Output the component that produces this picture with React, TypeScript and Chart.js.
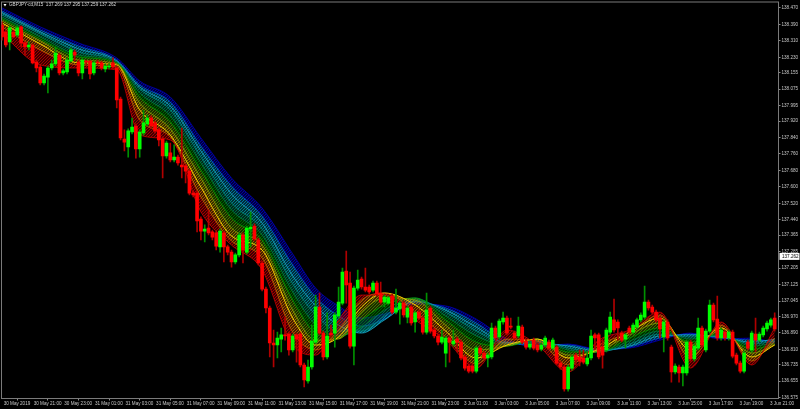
import React, { useEffect, useRef } from "react";
import Chart from "chart.js/auto";

const title = "GBPJPY-cd,M15  137.269 137.295 137.259 137.262";
const lastPrice = 137.262;

const timeLabels = ["30 May 2019","30 May 21:00","30 May 23:00","31 May 01:00","31 May 03:00","31 May 05:00","31 May 07:00","31 May 09:00","31 May 11:00","31 May 13:00","31 May 15:00","31 May 17:00","31 May 19:00","31 May 21:00","31 May 23:00","3 Jun 01:00","3 Jun 03:00","3 Jun 05:00","3 Jun 07:00","3 Jun 09:00","3 Jun 11:00","3 Jun 13:00","3 Jun 15:00","3 Jun 17:00","3 Jun 19:00","3 Jun 21:00"];
const priceTicks = [138.47,138.39,138.31,138.23,138.155,138.075,137.995,137.92,137.84,137.76,137.68,137.6,137.52,137.44,137.365,137.285,137.205,137.125,137.045,136.97,136.89,136.81,136.735,136.655,136.575];

const opens = [
138.387,138.353,138.305,138.353,138.339,138.378,138.300,138.280,138.290,138.207,
138.183,138.105,138.134,138.178,138.198,138.241,138.154,138.159,138.212,138.256,
138.207,138.154,138.212,138.212,138.154,138.207,138.203,138.173,138.183,138.203,
138.178,138.027,137.833,137.794,137.867,137.896,137.784,137.862,137.906,137.935,
137.911,137.877,137.833,137.750,137.765,137.731,137.745,137.706,137.702,137.677,
137.570,137.570,137.444,137.385,137.400,137.381,137.376,137.308,137.376,137.308,
137.283,137.235,137.269,137.366,137.283,137.395,137.410,137.342,137.230,137.103,
137.011,136.841,136.831,136.860,136.880,136.884,136.807,136.880,136.884,136.734,
136.656,136.724,136.845,137.016,136.889,136.773,136.889,136.889,136.972,137.035,
137.191,137.132,136.826,137.108,137.152,137.113,137.113,137.098,137.132,137.084,
137.040,137.035,137.069,136.991,137.006,137.035,136.967,137.016,136.943,136.991,
136.962,136.894,137.011,136.904,136.875,136.845,136.792,136.865,136.836,136.860,
136.845,136.773,136.729,136.729,136.704,136.816,136.792,136.768,136.773,136.914,
136.870,136.943,136.962,136.923,136.889,136.875,136.918,136.850,136.821,136.855,
136.831,136.811,136.831,136.845,136.816,136.821,136.743,136.724,136.617,136.719,
136.782,136.773,136.768,136.739,136.768,136.880,136.880,136.821,136.807,136.894,
136.953,136.943,136.889,136.860,136.914,136.894,136.918,136.953,136.967,137.040,
137.016,136.991,136.962,136.870,136.943,136.821,136.700,136.724,136.695,136.695,
136.845,136.763,136.816,136.914,136.807,136.899,137.025,136.957,136.865,136.894,
136.865,136.894,136.782,136.743,136.704,136.845,136.807,136.884,136.855,136.880,
136.909,136.928,136.962];
const highs = [
138.402,138.363,138.383,138.363,138.383,138.383,138.305,138.305,138.295,138.217,
138.193,138.149,138.188,138.217,138.280,138.251,138.173,138.227,138.276,138.266,
138.217,138.227,138.217,138.217,138.212,138.217,138.212,138.198,138.198,138.227,
138.188,138.037,137.877,137.882,137.935,137.906,137.877,137.974,137.950,137.945,
137.920,137.886,137.843,137.823,137.813,137.804,137.755,137.886,137.711,137.687,
137.580,137.580,137.454,137.415,137.488,137.390,137.385,137.395,137.385,137.317,
137.293,137.278,137.376,137.376,137.410,137.478,137.420,137.351,137.239,137.113,
137.021,136.904,136.894,136.914,136.967,136.894,136.884,136.889,136.894,136.743,
136.758,136.928,137.074,137.084,136.899,136.987,136.928,136.987,137.113,137.205,
137.288,137.186,137.118,137.196,137.162,137.205,137.123,137.142,137.142,137.137,
137.074,137.069,137.079,137.103,137.045,137.045,137.021,137.025,136.996,137.001,
136.972,137.084,137.021,136.914,136.884,136.904,136.875,136.875,136.904,136.870,
136.855,136.782,136.739,136.739,136.826,136.826,136.802,136.792,136.938,136.923,
136.957,136.991,136.972,136.962,136.899,136.967,136.928,136.860,136.845,136.865,
136.841,136.841,136.875,136.855,136.865,136.831,136.753,136.734,136.734,136.782,
136.792,136.807,136.807,136.797,136.904,136.889,136.889,136.855,136.914,136.991,
137.055,136.953,136.899,136.889,136.923,136.938,136.962,136.987,137.118,137.050,
137.025,137.001,136.972,136.953,136.953,136.831,136.739,136.734,136.734,136.855,
136.855,136.836,136.962,136.923,136.909,137.050,137.035,137.069,136.914,136.904,
136.904,136.904,136.792,136.753,136.802,136.855,136.899,136.962,136.894,136.923,
136.948,136.962,136.987];
const lows = [
138.314,138.280,138.266,138.324,138.329,138.280,138.241,138.266,138.198,138.159,
138.096,138.096,138.057,138.169,138.188,138.144,138.144,138.149,138.207,138.212,
138.139,138.125,138.193,138.125,138.144,138.193,138.169,138.159,138.173,138.173,
137.984,137.828,137.775,137.745,137.857,137.740,137.745,137.852,137.896,137.886,
137.862,137.799,137.643,137.740,137.721,137.721,137.706,137.643,137.619,137.561,
137.551,137.381,137.342,137.332,137.366,137.342,137.293,137.283,137.235,137.269,
137.210,137.225,137.259,137.230,137.274,137.308,137.337,137.220,137.094,136.987,
136.773,136.724,136.768,136.797,136.855,136.782,136.797,136.748,136.724,136.627,
136.646,136.714,136.836,136.880,136.758,136.763,136.870,136.821,136.962,137.026,
137.035,136.816,136.734,137.098,137.103,137.089,137.079,137.089,137.069,137.030,
137.016,137.026,136.982,136.982,136.933,136.967,136.938,136.928,136.894,136.953,
136.884,136.884,136.889,136.865,136.831,136.836,136.724,136.748,136.826,136.797,
136.758,136.709,136.695,136.695,136.695,136.782,136.758,136.724,136.763,136.855,
136.860,136.933,136.880,136.909,136.855,136.865,136.836,136.811,136.811,136.807,
136.797,136.802,136.821,136.807,136.807,136.734,136.714,136.607,136.607,136.709,
136.734,136.729,136.739,136.729,136.758,136.807,136.763,136.719,136.797,136.884,
136.894,136.855,136.846,136.816,136.884,136.884,136.909,136.943,136.957,137.001,
136.982,136.943,136.865,136.797,136.855,136.651,136.690,136.651,136.632,136.685,
136.753,136.753,136.807,136.821,136.797,136.889,136.943,136.855,136.855,136.855,
136.855,136.768,136.734,136.695,136.695,136.807,136.797,136.797,136.846,136.870,
136.899,136.918,136.899];
const closes = [
138.329,138.290,138.373,138.329,138.373,138.300,138.280,138.290,138.203,138.178,
138.105,138.139,138.178,138.198,138.251,138.154,138.164,138.217,138.266,138.241,
138.154,138.217,138.207,138.149,138.203,138.203,138.178,138.188,138.188,138.183,
138.023,137.838,137.818,137.872,137.891,137.784,137.867,137.911,137.935,137.896,
137.872,137.828,137.750,137.813,137.731,137.745,137.716,137.697,137.677,137.570,
137.561,137.434,137.385,137.395,137.376,137.356,137.312,137.385,137.308,137.283,
137.235,137.269,137.366,137.293,137.400,137.405,137.347,137.230,137.103,137.011,
136.841,136.831,136.865,136.880,136.875,136.807,136.875,136.860,136.734,136.661,
136.724,136.850,137.016,136.889,136.773,136.875,136.880,136.977,137.040,137.186,
137.123,136.826,137.108,137.147,137.113,137.098,137.089,137.132,137.079,137.040,
137.064,137.060,136.991,137.011,137.035,136.977,137.011,136.938,136.987,136.962,
136.894,137.001,136.899,136.875,136.845,136.870,136.865,136.845,136.850,136.845,
136.768,136.719,136.704,136.704,136.816,136.792,136.768,136.782,136.914,136.865,
136.948,136.962,136.889,136.918,136.865,136.923,136.845,136.821,136.836,136.816,
136.807,136.831,136.865,136.816,136.855,136.743,136.724,136.617,136.724,136.773,
136.758,136.753,136.748,136.768,136.875,136.865,136.773,136.782,136.904,136.967,
136.904,136.914,136.855,136.880,136.894,136.928,136.953,136.977,137.040,137.011,
136.991,136.953,136.909,136.943,136.865,136.700,136.729,136.695,136.724,136.845,
136.763,136.826,136.914,136.831,136.899,137.025,136.953,136.865,136.904,136.865,
136.894,136.777,136.743,136.704,136.792,136.816,136.889,136.855,136.884,136.914,
136.938,136.953,136.909];

const ribbonBars = [0,10,20,30,36,44,52,60,68,76,82,88,94,100,108,116,124,132,140,148,156,164,172,180,188,196,202];
const maRed = [138.344,138.193,138.178,138.169,137.852,137.828,137.478,137.317,137.196,136.831,136.782,136.953,137.074,137.074,136.953,136.855,136.719,136.904,136.831,136.700,136.855,136.904,136.991,136.719,136.943,136.734,136.914];
const maOrange = [138.378,138.266,138.193,138.183,137.925,137.843,137.551,137.337,137.254,136.894,136.807,136.904,137.050,137.084,136.991,136.870,136.739,136.860,136.850,136.734,136.831,136.894,136.977,136.768,136.928,136.753,136.865];
const maYellow = [138.397,138.295,138.203,138.193,137.974,137.852,137.599,137.361,137.293,136.962,136.831,136.870,137.016,137.084,137.026,136.899,136.768,136.831,136.860,136.768,136.811,136.894,136.962,136.807,136.914,136.773,136.831];
const maLime = [138.407,138.310,138.217,138.198,138.008,137.882,137.643,137.400,137.317,137.001,136.855,136.860,136.991,137.060,137.050,136.928,136.807,136.826,136.860,136.782,136.802,136.880,136.938,136.831,136.899,136.792,136.831];
const maGreen = [138.417,138.319,138.232,138.203,138.037,137.916,137.682,137.449,137.342,137.050,136.889,136.865,136.953,137.026,137.060,136.953,136.845,136.826,136.860,136.797,136.797,136.865,136.914,136.845,136.889,136.811,136.836];
const maDarkGreen = [138.426,138.329,138.241,138.207,138.057,137.945,137.716,137.488,137.366,137.089,136.928,136.875,136.918,137.001,137.060,136.972,136.875,136.831,136.855,136.807,136.797,136.850,136.899,136.860,136.880,136.826,136.841];
const maTeal = [138.436,138.344,138.256,138.207,138.076,137.974,137.745,137.522,137.395,137.128,136.977,136.899,136.899,136.972,137.055,136.991,136.899,136.836,136.850,136.816,136.797,136.836,136.884,136.870,136.875,136.836,136.850];
const maCyan = [138.446,138.353,138.271,138.212,138.086,137.993,137.775,137.565,137.424,137.167,137.021,136.928,136.889,136.953,137.045,137.001,136.918,136.841,136.841,136.826,136.802,136.826,136.875,136.880,136.870,136.845,136.860];
const maBlue = [138.455,138.363,138.285,138.217,138.096,138.013,137.799,137.604,137.458,137.220,137.064,136.972,136.923,136.957,137.040,137.011,136.938,136.845,136.831,136.831,136.807,136.821,136.865,136.884,136.865,136.855,136.850];
const maNavy = [138.470,138.378,138.300,138.227,138.115,138.037,137.838,137.643,137.497,137.274,137.108,137.021,136.962,136.982,137.030,137.021,136.957,136.860,136.821,136.836,136.811,136.816,136.855,136.889,136.860,136.865,136.841];

const ribbon = [
  { name: "MA red", values: maRed, line: "#e00000", band: "" },
  { name: "MA orange", values: maOrange, line: "#d87000", band: "#c00000" },
  { name: "MA yellow", values: maYellow, line: "#f0d000", band: "#c86000" },
  { name: "MA lime", values: maLime, line: "#90b000", band: "#a88c00" },
  { name: "MA green", values: maGreen, line: "#00a800", band: "#508800" },
  { name: "MA dark green", values: maDarkGreen, line: "#008848", band: "#007c00" },
  { name: "MA teal", values: maTeal, line: "#009088", band: "#007c50" },
  { name: "MA cyan", values: maCyan, line: "#20b8d8", band: "#0098a0" },
  { name: "MA blue", values: maBlue, line: "#0060e0", band: "#0088b8" },
  { name: "MA navy", values: maNavy, line: "#0000c8", band: "#0000c0" },
];

function hatch(color: string) {
  const tile = document.createElement("canvas");
  tile.width = 3;
  tile.height = 3;
  const c = tile.getContext("2d")!;
  c.globalAlpha = 0.32;
  c.fillStyle = color;
  c.fillRect(0, 0, 3, 3);
  c.globalAlpha = 0.85;
  c.strokeStyle = color;
  c.lineWidth = 0.9;
  c.beginPath();
  c.moveTo(-1, 4);
  c.lineTo(4, -1);
  c.stroke();
  return c.createPattern(tile, "repeat")!;
}

const frameAndText = {
  id: "frameAndText",
  beforeDatasetsDraw(chart: any) {
    const { ctx, chartArea: a } = chart;
    ctx.save();
    ctx.strokeStyle = "#7a7a7a";
    ctx.lineWidth = 1;
    ctx.strokeRect(a.left, a.top, a.right - a.left, a.bottom - a.top);
    ctx.restore();
  },
  afterDraw(chart: any) {
    const { ctx, chartArea: a, scales } = chart;
    ctx.save();
    ctx.fillStyle = "#ffffff";
    ctx.beginPath();
    ctx.moveTo(a.left + 2, 4);
    ctx.lineTo(a.left + 5, 4);
    ctx.lineTo(a.left + 3.5, 6.5);
    ctx.fill();
    ctx.fillStyle = "#d8d8d8";
    ctx.font = '4.6px "Liberation Sans"';
    ctx.textBaseline = "middle";
    ctx.textAlign = "left";
    ctx.fillText(title, 9, 5.2);
    const y = scales.y.getPixelForValue(lastPrice);
    ctx.fillStyle = "#ffffff";
    ctx.fillRect(a.right + 1, y - 3.5, 20, 7);
    ctx.fillStyle = "#000000";
    ctx.fillText(lastPrice.toFixed(3), a.right + 3.5, y + 0.2);
    ctx.restore();
  },
};

export default function App() {
  const ref = useRef<HTMLCanvasElement>(null);
  useEffect(() => {
    const lineSets = ribbon.map((s, k) => ({
      type: "line" as const,
      label: s.name,
      data: ribbonBars.map((bar, j) => ({ x: bar, y: s.values[j] })),
      borderColor: s.line,
      borderWidth: s.name === "MA yellow" ? 1 : 0.7,
      pointRadius: 0,
      cubicInterpolationMode: "monotone" as const,
      fill: k === 0 ? false : "-1",
      backgroundColor: k === 0 ? "transparent" : hatch(s.band),
      order: 5,
    }));
    const up = (i: number) => closes[i] >= opens[i];
    const wicks = {
      type: "bar" as const,
      label: "wicks",
      data: opens.map((_, i) => ({ x: i, y: [lows[i], highs[i]] })),
      backgroundColor: opens.map((_, i) => (up(i) ? "#009000" : "#b00000")),
      barThickness: 1,
      grouped: false,
      order: 2,
    };
    const bodies = {
      type: "bar" as const,
      label: "bodies",
      data: opens.map((o, i) => ({ x: i, y: [o, closes[i]] })),
      backgroundColor: opens.map((_, i) => (up(i) ? "#00ff00" : "#ff0000")),
      barThickness: 3,
      grouped: false,
      order: 1,
    };
    const axisFont = { family: '"Liberation Sans"', size: 4.6 };
    const chart = new Chart(ref.current!, {
      type: "bar",
      data: { datasets: [...lineSets, wicks, bodies] as any },
      plugins: [frameAndText],
      options: {
        responsive: false,
        animation: false,
        events: [],
        layout: { padding: { left: 1.5, top: 2, right: 0, bottom: 0 } },
        plugins: { legend: { display: false }, tooltip: { enabled: false }, title: { display: false } },
        scales: {
          x: {
            type: "linear",
            min: -0.13,
            max: 203,
            offset: false,
            afterBuildTicks: (s: any) => { s.ticks = timeLabels.map((_, k) => ({ value: k * 8 })); },
            afterFit: (s: any) => { s.height = 10.5; s.paddingLeft = 0; s.paddingRight = 0; },
            grid: { drawOnChartArea: false, color: "#8a8a8a", tickLength: 2 },
            border: { color: "#8a8a8a" },
            ticks: {
              autoSkip: false,
              maxRotation: 0,
              minRotation: 0,
              padding: 0.5,
              labelOffset: 15,
              color: "#c8c8c8",
              font: axisFont,
              callback: (v: any) => timeLabels[Math.round(v / 8)],
            },
          },
          y: {
            type: "linear",
            position: "right",
            min: 136.571,
            max: 138.499,
            afterBuildTicks: (s: any) => { s.ticks = priceTicks.map((value) => ({ value })); },
            afterFit: (s: any) => { s.width = 21.5; s.paddingTop = 0; s.paddingBottom = 0; },
            grid: { drawOnChartArea: false, color: "#8a8a8a", tickLength: 2 },
            border: { color: "#8a8a8a" },
            ticks: {
              autoSkip: false,
              padding: 1,
              color: "#c8c8c8",
              font: axisFont,
              callback: (v: any) => Number(v).toFixed(3),
            },
          },
        },
      },
    });
    return () => chart.destroy();
  }, []);
  return (
    <div style={{ position: "fixed", left: 0, top: 0, width: 800, height: 409, background: "#000" }}>
      <canvas ref={ref} width={800} height={409} style={{ display: "block", background: "#000" }} />
    </div>
  );
}
